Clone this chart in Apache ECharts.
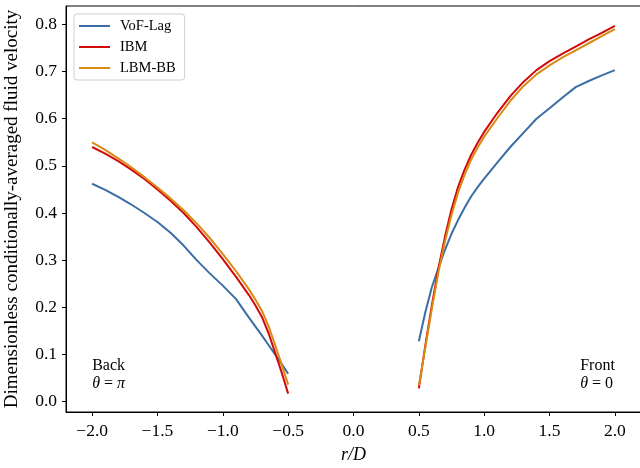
<!DOCTYPE html>
<html>
<head>
<meta charset="utf-8">
<script src="https://cdn.jsdelivr.net/npm/echarts@6/dist/echarts.min.js"></script>
<style>
  html, body { margin: 0; padding: 0; background: #fff; }
  #chart { width: 640px; height: 468px; }
</style>
</head>
<body>
<div id="chart"></div>
<script>
// ---- data ----
const xBack  = [-2.0, -1.9, -1.8, -1.7, -1.6, -1.5, -1.4, -1.3, -1.2, -1.1, -1.0, -0.9, -0.8, -0.75, -0.7, -0.65, -0.6, -0.55, -0.5];
const vofBack = [0.462, 0.449, 0.434, 0.418, 0.400, 0.381, 0.358, 0.331, 0.300, 0.272, 0.246, 0.218, 0.178, 0.159, 0.140, 0.120, 0.100, 0.080, 0.059];
const ibmBack = [0.540, 0.526, 0.510, 0.492, 0.472, 0.450, 0.426, 0.400, 0.370, 0.337, 0.302, 0.265, 0.226, 0.204, 0.179, 0.145, 0.104, 0.062, 0.017];
const lbmBack = [0.550, 0.534, 0.516, 0.497, 0.476, 0.454, 0.431, 0.406, 0.378, 0.347, 0.313, 0.277, 0.238, 0.216, 0.192, 0.160, 0.120, 0.079, 0.036];

const xFront  = [0.5, 0.55, 0.6, 0.65, 0.7, 0.75, 0.8, 0.85, 0.9, 0.95, 1.0, 1.1, 1.2, 1.3, 1.4, 1.5, 1.6, 1.7, 1.8, 1.9, 2.0];
const vofFront = [0.128, 0.190, 0.243, 0.283, 0.322, 0.356, 0.385, 0.411, 0.435, 0.455, 0.473, 0.507, 0.540, 0.570, 0.600, 0.622, 0.645, 0.667, 0.680, 0.692, 0.703];
const ibmFront = [0.028, 0.120, 0.205, 0.283, 0.350, 0.408, 0.455, 0.492, 0.523, 0.549, 0.572, 0.612, 0.648, 0.678, 0.703, 0.722, 0.738, 0.753, 0.768, 0.782, 0.797];
const lbmFront = [0.034, 0.115, 0.198, 0.275, 0.340, 0.396, 0.443, 0.481, 0.513, 0.539, 0.562, 0.601, 0.638, 0.669, 0.694, 0.713, 0.730, 0.745, 0.760, 0.775, 0.790];

const seriesNames = ['VoF-Lag', 'IBM', 'LBM-BB'];
const xTicks = [-2.0, -1.5, -1.0, -0.5, 0.0, 0.5, 1.0, 1.5, 2.0];
const yTicks = [0.0, 0.1, 0.2, 0.3, 0.4, 0.5, 0.6, 0.7, 0.8];
const xTitle = 'r/D';
const yTitle = 'Dimensionless conditionally-averaged fluid velocity';
const annBack = ['Back', 'θ', 'π'];
const annFront = ['Front', 'θ', '0'];

// ---- style ----
const colors = ['#3b6ea5', '#d10a0a', '#d98a12'];
const FONT = '"Liberation Serif", "DejaVu Serif", serif';

function pairs(xs, ys) { return xs.map((x, i) => [x, ys[i]]); }
function fmt(v) { return v.toFixed(1).replace('-', '\u2212'); }

const backData = [vofBack, ibmBack, lbmBack];
const frontData = [vofFront, ibmFront, lbmFront];

const series = [];
seriesNames.forEach((name, k) => {
  [[xBack, backData[k]], [xFront, frontData[k]]].forEach(([xs, ys]) => {
    series.push({
      name: name,
      type: 'line',
      data: pairs(xs, ys),
      showSymbol: false,
      symbol: 'none',
      smooth: false,
      lineStyle: { color: colors[k], width: 2 },
      itemStyle: { color: colors[k] },
      z: 2 + k,
      animation: false
    });
  });
});

const chart = echarts.init(document.getElementById('chart'), null, { renderer: 'canvas' });

const option = {
  animation: false,
  backgroundColor: '#fff',
  textStyle: { fontFamily: FONT },
  grid: {
    left: 66, top: 6, right: -1, bottom: 56,
    containLabel: false,
    outerBoundsMode: 'none',
    show: true, borderColor: '#000', borderWidth: 1, backgroundColor: 'transparent'
  },
  legend: {
    orient: 'vertical',
    left: 74, top: 14,
    data: seriesNames.map((n, k) => ({ name: n, icon: 'rect', itemStyle: { color: colors[k] } })),
    itemWidth: 31, itemHeight: 2,
    itemGap: 5,
    padding: [4, 9, 4, 5],
    borderColor: '#d0d0d0', borderWidth: 1, borderRadius: 3,
    backgroundColor: 'rgba(255,255,255,0.85)',
    textStyle: { fontFamily: FONT, fontSize: 14.5, color: '#000', padding: [0, 0, 0, 5], lineHeight: 16 },
    selectedMode: false
  },
  xAxis: {
    type: 'value',
    min: -2.2, max: 2.2,
    name: xTitle,
    nameLocation: 'middle',
    nameGap: 34,
    nameTextStyle: { fontFamily: FONT, fontSize: 18, fontStyle: 'italic', color: '#000' },
    axisLine: { show: true, onZero: false, lineStyle: { color: '#000', width: 1 } },
    axisTick: { show: true, length: 4, lineStyle: { color: '#000' }, customValues: xTicks },
    axisLabel: { fontFamily: FONT, fontSize: 17.5, color: '#000', margin: 10, customValues: xTicks, formatter: fmt },
    splitLine: { show: false }
  },
  yAxis: {
    type: 'value',
    min: -0.022, max: 0.839,
    name: yTitle,
    nameLocation: 'middle',
    nameGap: 44,
    nameRotate: 90,
    nameTextStyle: { fontFamily: FONT, fontSize: 19, color: '#000' },
    axisLine: { show: true, onZero: false, lineStyle: { color: '#000', width: 1 } },
    axisTick: { show: true, length: 4, lineStyle: { color: '#000' }, customValues: yTicks },
    axisLabel: { fontFamily: FONT, fontSize: 17.5, color: '#000', margin: 9, customValues: yTicks, formatter: fmt },
    splitLine: { show: false }
  },
  series: series
};
chart.setOption(option);

// annotations anchored to data coordinates
const pL = chart.convertToPixel({ xAxisIndex: 0, yAxisIndex: 0 }, [xTicks[0], 0.094]);
const pR = chart.convertToPixel({ xAxisIndex: 0, yAxisIndex: 0 }, [xTicks[xTicks.length - 1], 0.094]);
function annText(a) {
  const last = /[0-9]/.test(a[2]) ? '{n|' + a[2] + '}' : '{i|' + a[2] + '}';
  return '{n|' + a[0] + '}\n{i|' + a[1] + '}{n| = }' + last;
}
const rich = {
  n: { fontFamily: FONT, fontSize: 16, color: '#222', lineHeight: 18 },
  i: { fontFamily: FONT, fontSize: 16, fontStyle: 'italic', color: '#222', lineHeight: 18 }
};
chart.setOption({
  graphic: [
    { type: 'text', left: pL[0], top: pL[1], style: { text: annText(annBack), rich: rich, align: 'left' }, z: 10 },
    { type: 'text', right: 640 - pR[0], top: pR[1], style: { text: annText(annFront), rich: rich, align: 'right' }, z: 10 }
  ]
});
</script>
</body>
</html>
